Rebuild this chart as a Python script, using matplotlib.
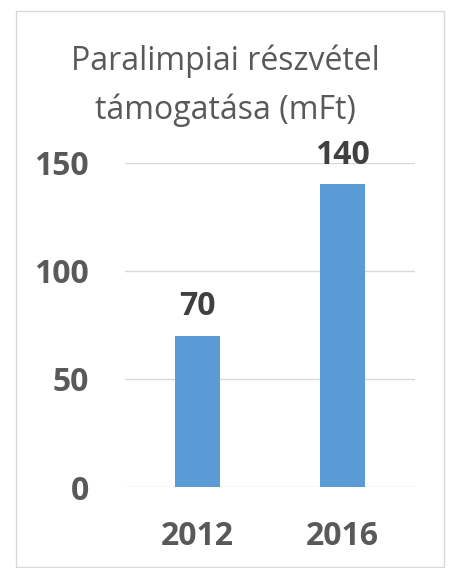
import matplotlib
matplotlib.use('Agg')
import matplotlib.pyplot as plt
from matplotlib.patches import Rectangle

plt.rcParams['font.family'] = ['Open Sans', 'DejaVu Sans']

# 数据
years = ['2012', '2016']
values = [70, 140]
yticks = [0, 50, 100, 150]

W, H = 451, 568
fig = plt.figure(figsize=(W / 100, H / 100), dpi=100)

# 外框
fig.patches.append(Rectangle((16 / W, 1 - 567 / H), (444 - 16) / W, (567 - 11) / H,
                             transform=fig.transFigure, fill=False,
                             edgecolor='#D9D9D9', linewidth=1))

ax = fig.add_axes([125 / W, (H - 487) / H, 290 / W, (487 - 162.7) / H])
x = range(len(years))
ax.bar(x, values, width=0.31, color='#5B9BD5', zorder=3)
ax.set_xlim(-0.5, 1.5)
ax.set_ylim(0, 150)
ax.set_yticks(yticks)
ax.set_yticklabels([str(t) for t in yticks])
ax.set_xticks(list(x))
ax.set_xticklabels(years)

for s in ax.spines.values():
    s.set_visible(False)
ax.grid(axis='y', color='#D9D9D9', linewidth=1, zorder=0)
ax.tick_params(length=0)
ax.tick_params(axis='y', pad=26)
ax.tick_params(axis='x', pad=24)
for lab in ax.get_yticklabels() + ax.get_xticklabels():
    lab.set_fontsize(23)
    lab.set_fontweight('bold')
    lab.set_color('#595959')

# 数值标签
for i, v in enumerate(values):
    ax.annotate(str(v), (i, v), xytext=(0, 9), textcoords='offset points',
                ha='center', va='bottom', fontsize=23, fontweight='bold',
                color='#404040')

fig.text(0.5, 1 - 86 / H, 'Paralimpiai részvétel\ntámogatása (mFt)',
         ha='center', va='center', fontsize=23, color='#595959',
         linespacing=1.6)

fig.savefig('out.png', dpi=100)
